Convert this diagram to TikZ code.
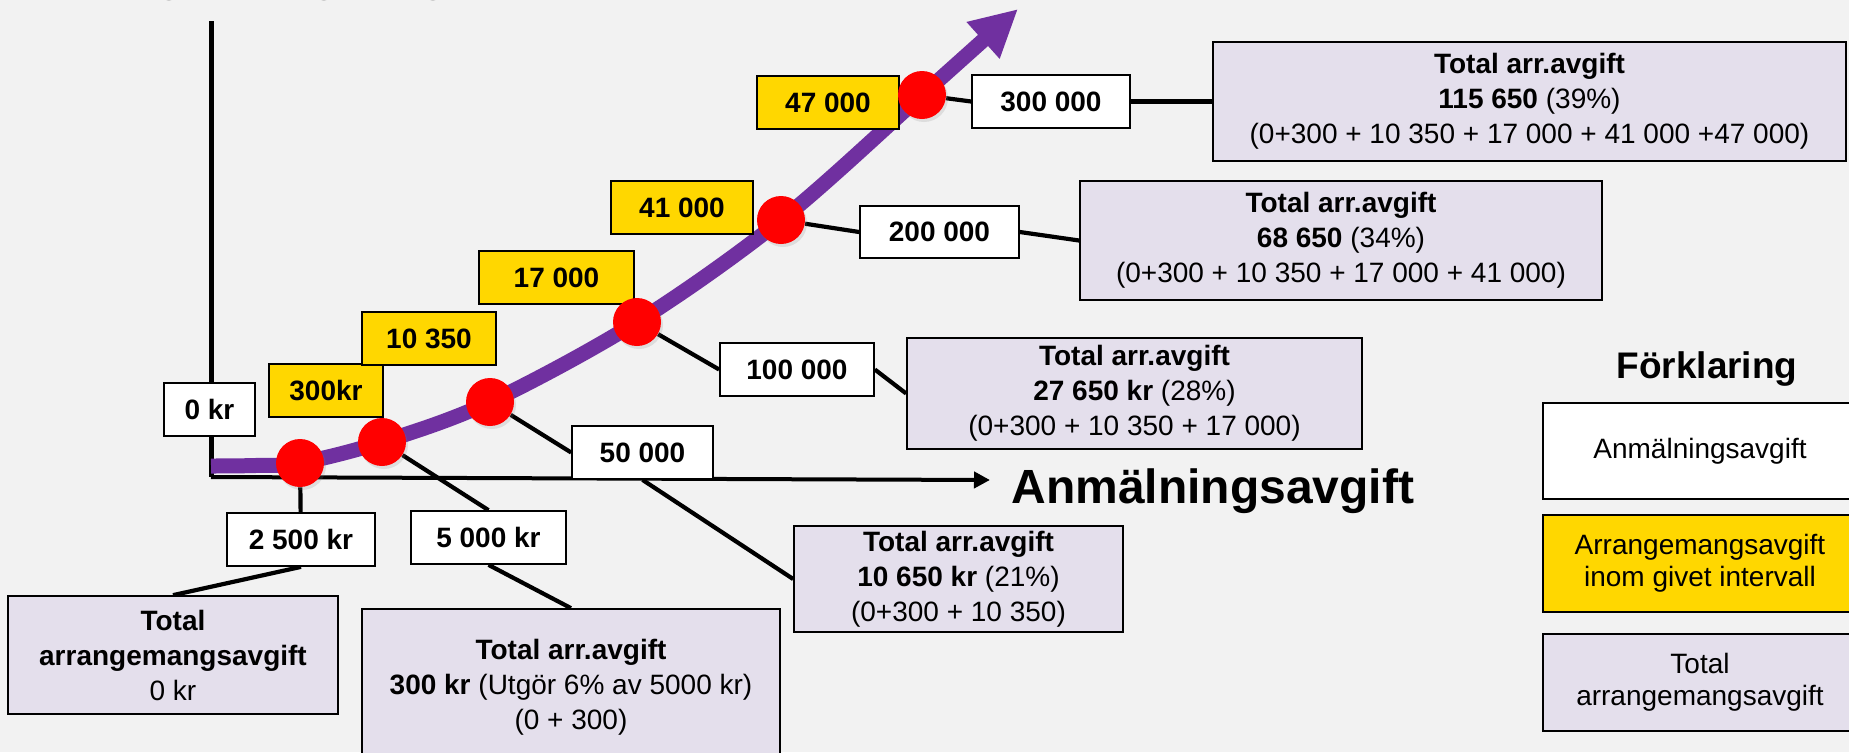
\documentclass[tikz,border=0pt]{standalone}
\usepackage{fontspec}
\setmainfont{Liberation Sans}
\usetikzlibrary{arrows.meta,shadows}
\definecolor{bgc}{HTML}{F2F2F2}
\definecolor{gold}{HTML}{FFD700}
\definecolor{lav}{HTML}{E4DFEC}
\definecolor{purp}{HTML}{7030A0}
\definecolor{dotred}{HTML}{FF0000}
\pgfdeclarelayer{back}
\pgfdeclarelayer{bg}
\pgfdeclarelayer{mid}
\pgfsetlayers{back,bg,mid,main}
\begin{document}
\begin{tikzpicture}[x=0.5pt,y=-0.5pt,
  box/.style={draw=black, line width=0.85pt, inner sep=0pt, align=center,
    font=\fontsize{14}{17.5}\selectfont\bfseries},
  wbox/.style={box, fill=white},
  ybox/.style={box, fill=gold},
  lbox/.style={draw=black, line width=0.85pt, fill=lav, inner sep=0pt, align=center,
    font=\fontsize{14}{17.5}\selectfont},
  legbox/.style={draw=black, line width=0.85pt, inner sep=0pt, align=center,
    font=\fontsize{14}{16}\selectfont},
  sz/.style n args={2}{minimum width=#1*0.5pt, minimum height=#2*0.5pt},
  dot/.style={circle, fill=dotred, minimum size=24pt, inner sep=0pt,
    drop shadow={opacity=0.18, shadow xshift=1pt, shadow yshift=-1.5pt}},
  conn/.style={line width=2.1pt},
  bigtxt/.style={font=\fontsize{24}{28}\selectfont\bfseries, inner sep=0pt}
]
\begin{pgfonlayer}{back}
\fill[bgc] (0,0) rectangle (1849,752);
\end{pgfonlayer}
\useasboundingbox (0,0) rectangle (1849,752);

% axis title (cut off by the top edge, as in the reference)
\node[bigtxt, anchor=base west] (ytitle) at (27,-10) {Arrangemangsavgift};

% axes coordinates
\coordinate (ytop) at (211,21);
\coordinate (orig) at (211,477);
\coordinate (xend) at (990,480);
\coordinate (cs) at (211,466);
\coordinate (ctip) at (1018,9);

% white boxes
\node[wbox, sz={91}{53}] (b0) at (209.5,409.5) {0 kr};
\node[wbox, sz={148}{53}] (b2500) at (301,539.5) {2 500 kr};
\node[wbox, sz={155}{53}] (b5000) at (488.5,537.5) {5 000 kr};
\node[wbox, sz={141}{53}] (b50k) at (642.5,452.5) {50 000};
\node[wbox, sz={154}{53}] (b100k) at (797,369.5) {100 000};
\node[wbox, sz={159}{52}] (b200k) at (939.5,232) {200 000};
\node[wbox, sz={158}{53}] (b300k) at (1051,101.5) {300 000};

% yellow boxes
\node[ybox, sz={114}{53}] (y300) at (326,390.5) {300kr};
\node[ybox, sz={134}{53}] (y10k) at (429,338.5) {10 350};
\node[ybox, sz={155}{53}] (y17k) at (556.5,277.5) {17 000};
\node[ybox, sz={142}{53}] (y41k) at (682,207.5) {41 000};
\node[ybox, sz={142}{53}] (y47k) at (828,102.5) {47 000};

% lavender total boxes
\node[lbox, sz={330}{118}] (t1) at (173,655) {\textbf{Total}\\\textbf{arrangemangsavgift}\\0 kr};
\node[lbox, sz={418}{156}] (t2) at (571,687) {\textbf{Total arr.avgift}\\\textbf{300 kr} (Utgör 6\% av 5000 kr)\\(0 + 300)};
\node[lbox, sz={329}{106}] (t3) at (958.5,579) {\textbf{Total arr.avgift}\\\textbf{10 650 kr} (21\%)\\(0+300 + 10 350)};
\node[lbox, sz={455}{111}] (t4) at (1134.5,393.5) {\textbf{Total arr.avgift}\\\textbf{27 650 kr} (28\%)\\(0+300 + 10 350 + 17 000)};
\node[lbox, sz={633}{119}] (t5) at (1529.5,101.5) {\textbf{Total arr.avgift}\\\textbf{115 650} (39\%)\\(0+300 + 10 350 + 17 000 + 41 000 +47 000)};
\node[lbox, sz={522}{119}] (t6) at (1341,240.5) {\textbf{Total arr.avgift}\\\textbf{68 650} (34\%)\\(0+300 + 10 350 + 17 000 + 41 000)};

% red points
\node[dot] (c1) at (300,463) {};
\node[dot] (c2) at (382,442) {};
\node[dot] (c3) at (490,402) {};
\node[dot] (c4) at (637,322) {};
\node[dot] (c5) at (781,220) {};
\node[dot] (c6) at (922,95) {};

% axis label
\node[bigtxt, anchor=base west] (xlab) at (1011,503) {Anmälningsavgift};

% legend
\node[font=\fontsize{18.5}{22}\selectfont\bfseries, anchor=base, inner sep=0pt] (legt) at (1707,378) {Förklaring};
\node[legbox, fill=white, sz={314}{96}] (l1) at (1700,451) {Anmälningsavgift};
\node[legbox, fill=gold, sz={314}{97}] (l2) at (1700,563.5) {Arrangemangsavgift\\inom givet intervall};
\node[legbox, fill=lav, sz={314}{97}] (l3) at (1700,682.5) {Total\\arrangemangsavgift};

\begin{pgfonlayer}{bg}
  \draw[line width=2.5pt] (ytop) -- (orig);
  \draw[line width=2pt, -{Triangle[length=8pt,width=8pt]}] (orig) -- (xend);
  \draw[conn] (c1) -- (b2500);
  \draw[conn] (c2) -- (b5000.north);
  \draw[conn] (c3) -- (b50k.west);
  \draw[conn] (c4) -- (b100k.west);
  \draw[conn] (c5) -- (b200k.west);
  \draw[conn] (c6) -- (b300k.west);
  \draw[conn] (b2500.south) -- (t1.north);
  \draw[conn] (b5000.south) -- (t2.north);
  \draw[conn] (b50k.south) -- (t3.west);
  \draw[conn] (b100k.east) -- (t4.west);
  \draw[conn] (b200k.east) -- (t6.west);
  \draw[conn] (b300k.east) -- (t5.west);
\end{pgfonlayer}

\begin{pgfonlayer}{mid}
  \draw[purp, line width=7.5pt, -{Triangle[length=23.5pt,width=23pt]}]
    plot[smooth, tension=0.55] coordinates {(cs) (255,465.5) (c1.center) (c2.center) (c3.center) (c4.center) (c5.center) (c6.center) (ctip)};
\end{pgfonlayer}
\end{tikzpicture}
\end{document}
